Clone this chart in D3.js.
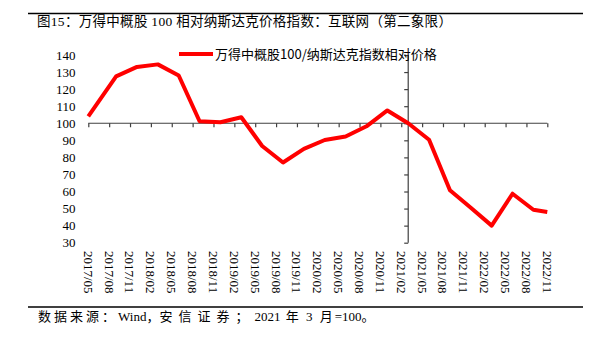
<!DOCTYPE html>
<html><head><meta charset="utf-8">
<script src="https://cdn.jsdelivr.net/npm/d3@7"></script>
<style>body{margin:0;background:#fff}svg{display:block}</style>
</head><body>
<svg id="c" width="591" height="337"></svg>
<script>
const dates = ["2017/05","2017/09","2017/12","2018/03","2018/06","2018/09","2018/12","2019/03","2019/06","2019/09","2019/12","2020/03","2020/06","2020/09","2020/12","2021/03","2021/06","2021/09","2021/12","2022/03","2022/06","2022/09","2022/11"];
const values = [104,127.5,133,134.5,128,101.2,100.6,103.5,86.7,77,85,90.2,92.2,98.2,107.5,100,90.3,60.7,50.5,40,58.7,49.3,48];
const xTickLabels = ["2017/05","2017/08","2017/11","2018/02","2018/05","2018/08","2018/11","2019/02","2019/05","2019/08","2019/11","2020/02","2020/05","2020/08","2020/11","2021/02","2021/05","2021/08","2021/11","2022/02","2022/05","2022/08","2022/11"];
const yTicks = [30,40,50,60,70,80,90,100,110,120,130,140];
const seriesName = "万得中概股100/纳斯达克指数相对价格";
const crossDate = "2021/03";
const crossValue = 100;

const mi = s => { const [y,m] = s.split("/").map(Number); return (y-2017)*12 + (m-5); };
const svg = d3.select("#c");
const F = "'Liberation Serif','Noto Sans CJK SC',serif";

const x = d3.scaleLinear().domain([mi("2017/05"), mi("2022/11")]).range([88.3, 547.3]);
const y = d3.scaleLinear().domain([30,140]).range([242.7, 55]);
const axisColor = "#404040";

// title
svg.append("line").attr("x1",28).attr("x2",583).attr("y1",13.5).attr("y2",13.5).attr("stroke","#000").attr("stroke-width",1.3);
svg.append("text").attr("x",37).attr("y",26).attr("font-family",F).attr("font-size",13.5).attr("fill","#000")
  .attr("letter-spacing",0.3)
  .text("图15：万得中概股 100 相对纳斯达克价格指数：互联网（第二象限）");

// footer
svg.append("line").attr("x1",28).attr("x2",583).attr("y1",307).attr("y2",307).attr("stroke","#000").attr("stroke-width",1.3);
const ft = svg.append("text").attr("x",38).attr("y",321).attr("font-family",F).attr("font-size",13).attr("fill","#000");
ft.append("tspan").attr("letter-spacing",3).text("数据来源：");
ft.append("tspan").text("Wind，");
ft.append("tspan").attr("letter-spacing",6).text("安信证券；");
ft.append("tspan").text("2021");
ft.append("tspan").attr("letter-spacing",2).text(" 年 3 月");
ft.append("tspan").text("=100。");

// x axis at y=100
const xAxis = d3.axisBottom(x).tickValues(xTickLabels.map(mi)).tickSize(4).tickFormat("");
const gx = svg.append("g").attr("transform",`translate(0,${y(crossValue)})`).call(xAxis);
gx.selectAll("path,line").attr("stroke",axisColor).attr("stroke-width",1.2);
gx.select(".domain").attr("d",`M${x.range()[0]},0H${x.range()[1]}`);

// y axis at 2021/03
const yAxis = d3.axisLeft(y).tickValues(yTicks).tickSize(4).tickFormat("");
const gy = svg.append("g").attr("transform",`translate(${x(mi(crossDate))},0)`).call(yAxis);
gy.selectAll("path,line").attr("stroke",axisColor).attr("stroke-width",1.2);
gy.select(".domain").attr("d",`M0,${y.range()[0]}V${y.range()[1]}`);

// y labels at left
svg.append("g").selectAll("text").data(yTicks).join("text")
  .attr("x",75.5).attr("y",d=>y(d)).attr("dy","0.35em").attr("text-anchor","end")
  .attr("font-family",F).attr("font-size",13).attr("fill","#000").text(d=>d);

// x labels rotated
svg.append("g").selectAll("text").data(xTickLabels).join("text")
  .attr("transform",d=>`translate(${x(mi(d))},251) rotate(90)`)
  .attr("dy","0.35em").attr("text-anchor","start")
  .attr("font-family",F).attr("font-size",13).attr("fill","#000").text(d=>d);

// line
const line = d3.line().x((d,i)=>x(mi(dates[i]))).y(d=>y(d));
svg.append("path").datum(values).attr("d",line).attr("fill","none").attr("stroke","#ff0000")
  .attr("stroke-width",4).attr("stroke-linejoin","round");

// legend
svg.append("line").attr("x1",179).attr("x2",213).attr("y1",54).attr("y2",54).attr("stroke","#ff0000").attr("stroke-width",4);
svg.append("text").attr("x",215).attr("y",54).attr("dy","0.35em").attr("font-family","'Noto Sans CJK SC',sans-serif")
  .attr("font-size",13).attr("fill","#000").text(seriesName);
</script>
</body></html>
